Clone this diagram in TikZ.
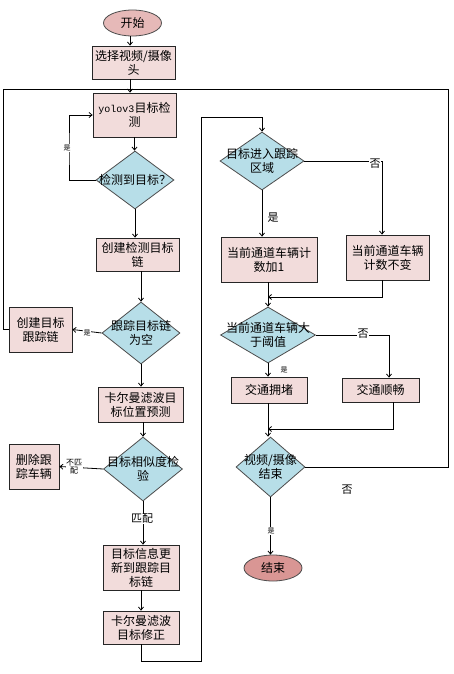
\documentclass[tikz,border=0pt]{standalone}
\usepackage{fontspec}
\setmainfont{Noto Sans CJK SC}
\newfontfamily\monof{Liberation Mono}
\usetikzlibrary{shapes.geometric,arrows.meta}
\definecolor{boxc}{HTML}{F2DCDB}
\definecolor{diac}{HTML}{B7DEE8}
\definecolor{startc}{HTML}{E6B9B8}
\definecolor{endc}{HTML}{D99694}
\begin{document}
\begin{tikzpicture}[x=1pt,y=-1pt,font=\fontsize{12}{14}\selectfont,
  box/.style={draw=black!85, fill=boxc, line width=0.8pt, inner sep=0pt, align=center},
  dia/.style={diamond, draw=black!70, fill=diac, line width=0.8pt, inner sep=0pt},
  ell/.style={ellipse, draw=black!70, line width=0.8pt, inner sep=0pt},
  lab/.style={align=center, inner sep=0pt},
  arr/.style={line width=0.8pt, -{Straight Barb[length=3pt,width=5pt]}},
  conn/.style={line width=0.8pt},
  smalll/.style={font=\fontsize{7}{8}\selectfont, fill=white, inner sep=0.5pt, align=center},
  midl/.style={font=\fontsize{11}{12}\selectfont, fill=white, inner sep=0.5pt}]
\useasboundingbox (0,0) rectangle (453,674);
\fill[white] (0,0) rectangle (453,674);

% nodes
\node[ell, fill=startc, minimum width=58pt, minimum height=26pt] (start) at (132.5,23) {开始};
\node[box, minimum width=83pt, minimum height=33pt] (sel) at (133.5,62.5) {选择视频/摄像\\头};
\node[box, minimum width=83pt, minimum height=44pt] (yolo) at (134.5,115) {{\monof\fontsize{10}{14}\selectfont yolov3}目标检\\测};
\node[dia, minimum width=78pt, minimum height=58pt, label={[lab]center:检测到目标？}] (det) at (135,180) {};
\node[box, minimum width=83pt, minimum height=33pt] (cdet) at (137.5,254.5) {创建检测目标\\链};
\node[dia, minimum width=78pt, minimum height=62pt, label={[lab]center:跟踪目标链\\为空}] (empty) at (141,333) {};
\node[box, minimum width=63pt, minimum height=45pt] (ctrack) at (40.5,329.5) {创建目标\\跟踪链};
\node[box, minimum width=85pt, minimum height=35pt] (kal1) at (140.5,404.5) {卡尔曼滤波目\\标位置预测};
\node[dia, minimum width=79pt, minimum height=64pt, label={[lab]center:目标相似度检\\验}] (sim) at (143,469) {};
\node[box, minimum width=50pt, minimum height=45pt] (del) at (34,466.5) {删除跟\\踪车辆};
\node[box, minimum width=76pt, minimum height=45pt] (upd) at (141,567.5) {目标信息更\\新到跟踪目\\标链};
\node[box, minimum width=76pt, minimum height=33pt] (kal2) at (141,627.5) {卡尔曼滤波\\目标修正};

\node[dia, minimum width=84pt, minimum height=58pt, label={[lab]center:目标进入跟踪\\区域}] (reg) at (262,161) {};
\node[box, minimum width=96pt, minimum height=45pt] (inc) at (269,259.5) {当前通道车辆计\\数加1};
\node[box, minimum width=83pt, minimum height=45pt] (nochg) at (387.5,257.5) {当前通道车辆\\计数不变};
\node[dia, minimum width=95pt, minimum height=56pt, label={[lab]center:当前通道车辆大\\于阈值}] (thr) at (268,335) {};
\node[box, minimum width=76pt, minimum height=26pt] (jam) at (269,390) {交通拥堵};
\node[box, minimum width=77pt, minimum height=24pt] (smooth) at (380.5,390) {交通顺畅};
\node[dia, minimum width=69pt, minimum height=60pt, label={[lab]center:视频/摄像\\结束}] (vend) at (270.5,467) {};
\node[ell, fill=endc, minimum width=58pt, minimum height=26pt] (endn) at (273,568) {结束};

% coordinates
\coordinate (ax) at (130,89);
\coordinate (ltop) at (3,89);
\coordinate (rtop) at (448,89);
\coordinate (lpx) at (69,150);
\coordinate (c1) at (201,661);
\coordinate (c2) at (201,117);
\coordinate (m1) at (268,297);
\coordinate (m2) at (268,429);

% connectors
\draw[arr] (ax |- start.south) -- (ax |- sel.north);
\draw[conn] (vend.east) -| (rtop) -- (ltop) |- (ctrack.west);
\draw[arr] (ax |- sel.south) -- (ax |- yolo.north);
\draw[arr] (yolo.south) -- (yolo.south |- det.north);
\draw[arr] (det.west) -| (lpx) |- (yolo.west);
\node[smalll] (l1) at (67,148) {是};
\draw[arr] (det.south) -- (det.south |- cdet.north);
\draw[arr] (empty.north |- cdet.south) -- (empty.north);
\draw[arr] (empty.west) -- (ctrack.east);
\node[smalll] (l2) at (87,333) {是};
\draw[arr] (empty.south) -- (empty.south |- kal1.north);
\draw[arr] (sim.north |- kal1.south) -- (sim.north);
\draw[arr] (sim.west) -- (del.east);
\node[smalll, font=\fontsize{8}{8}\selectfont] (l3) at (74,467) {不匹\\配};
\draw[arr] (sim.south) -- (sim.south |- upd.north);
\node[midl] (l4) at (142,519) {匹配};
\draw[arr] (upd.south) -- (upd.south |- kal2.north);
\draw[arr] (kal2.south) |- (c1) -- (c2) -| (reg.north);

\draw[arr] (reg.east) -| ([xshift=-5.5pt]nochg.north);
\node[midl] (l5) at (375,164) {否};
\draw[arr] (reg.south) -- (reg.south |- inc.north);
\node[font=\fontsize{11}{12}\selectfont, inner sep=0pt] (l6) at (273,218) {是};
\draw[arr] (thr.north |- inc.south) -- (thr.north);
\draw[arr] ([xshift=-5.5pt]nochg.south) |- (m1);
\draw[arr] (thr.east) -| ([xshift=8.5pt]smooth.north);
\node[midl] (l7) at (363,334) {否};
\draw[arr] (thr.south) -- (thr.south |- jam.north);
\node[smalll] (l8) at (284,370) {是};
\draw[arr] (m2 |- jam.south) -- (m2 |- vend.north);
\draw[arr] ([xshift=12.5pt]smooth.south) |- (m2);
\draw[arr] (vend.south) -- (vend.south |- endn.north);
\node[smalll] (l9) at (271,531) {是};
\node[font=\fontsize{11}{12}\selectfont, inner sep=0pt] (l10) at (347,490) {否};
\end{tikzpicture}
\end{document}
